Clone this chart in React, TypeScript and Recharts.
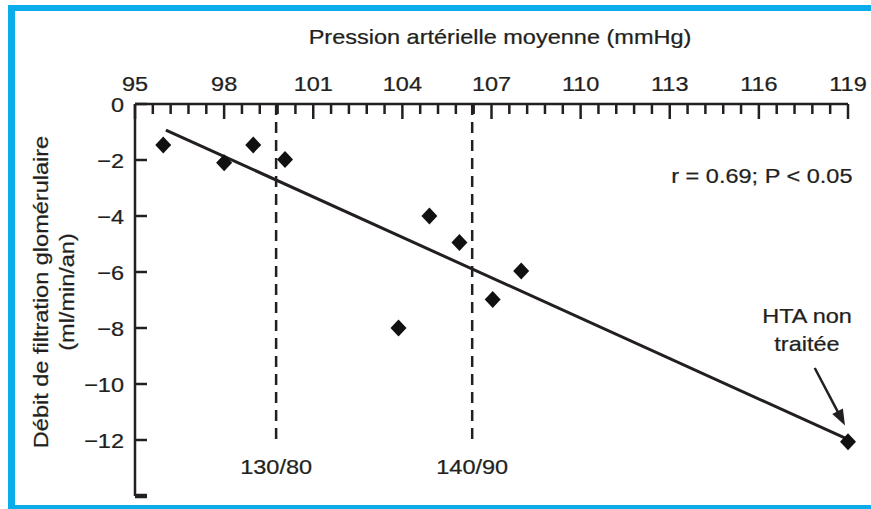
import React from 'react';
import { ScatterChart, Scatter, XAxis, YAxis, ReferenceLine, ReferenceDot } from 'recharts';

// ---- data ----
const pressureMmHg = [95.95, 98.0, 98.98, 100.05, 103.87, 104.91, 105.92, 107.04, 108.0, 119.0];
const gfrChange = [-1.46, -2.1, -1.46, -1.98, -8.0, -4.0, -4.95, -6.98, -5.96, -12.06];
const xMajorTicks = [95, 98, 101, 104, 107, 110, 113, 116, 119];
const xMinorPerMajor = 5;
const yTicks = [0, -2, -4, -6, -8, -10, -12, -14];
const yTickLabels = ['0', '−2', '−4', '−6', '−8', '−10', '−12', ''];
const regressionX = [96.04, 119.0];
const regressionY = [-0.93, -11.98];
const thresholdX = [99.75, 106.35];
const thresholdLabels = ['130/80', '140/90'];
const thresholdLabelY = -12.95;
const xTitle = 'Pression artérielle moyenne (mmHg)';
const yTitleLines = ['Débit de filtration glomérulaire', '(ml/min/an)'];
const statText = 'r = 0.69; P < 0.05';
const statPos = { x: 116.1, y: -2.57 };
const noteLines = ['HTA non', 'traitée'];
const notePos = { x: 117.62, y: [-7.54, -8.54] };
const arrowFrom = { x: 117.88, y: -9.43 };
const arrowTo = { x: 118.9, y: -11.48 };

const data = pressureMmHg.map((x, i) => ({ x, y: gfrChange[i] }));
const xAllTicks: number[] = [];
for (let i = 0; i < xMajorTicks.length - 1; i++) {
  const a = xMajorTicks[i];
  const b = xMajorTicks[i + 1];
  for (let k = 0; k < xMinorPerMajor; k++) xAllTicks.push(+(a + ((b - a) * k) / xMinorPerMajor).toFixed(3));
}
xAllTicks.push(xMajorTicks[xMajorTicks.length - 1]);

const INK = '#231f20';
const FONT = '"Liberation Sans", Arial, Helvetica, sans-serif';
const SX = 1.12;
const FS = 21;

const SText = ({ x, y, children, anchor = 'middle', rotate = 0, size = FS }: any) => (
  <text
    transform={`translate(${x},${y}) rotate(${rotate}) scale(${SX},1)`}
    textAnchor={anchor}
    fontFamily={FONT}
    fontSize={size}
    fill={INK}
    stroke={INK}
    strokeWidth={0.25}
  >
    {children}
  </text>
);

const isMajor = (v: number) => xMajorTicks.some((m) => Math.abs(m - v) < 1e-6);

const XTick = (props: any) => {
  const { x, y, payload } = props;
  const v = payload.value;
  const major = isMajor(v);
  return (
    <g>
      <line x1={x} y1={y} x2={x} y2={y + (major ? 15 : 10)} stroke={INK} strokeWidth={2.5} />
      {major && (
        <SText x={x} y={y - 13}>
          {String(v)}
        </SText>
      )}
    </g>
  );
};

const YTick = (props: any) => {
  const { x, y, payload } = props;
  const v = payload.value;
  const idx = yTicks.indexOf(v);
  const label = idx >= 0 ? yTickLabels[idx] : '';
  const last = v === yTicks[yTicks.length - 1];
  return (
    <g>
      <line x1={x} y1={y} x2={x + 12} y2={y} stroke={INK} strokeWidth={last ? 4.5 : 2.5} />
      {label && (
        <SText x={x - 11} y={y + 7.5} anchor="end">
          {label}
        </SText>
      )}
    </g>
  );
};

const Diamond = (props: any) => {
  const { cx, cy } = props;
  const hw = 8;
  const hh = 8.5;
  return (
    <polygon
      points={`${cx},${cy - hh} ${cx + hw},${cy} ${cx},${cy + hh} ${cx - hw},${cy}`}
      fill="#111"
    />
  );
};

const XTitle = (props: any) => {
  const vb = props.viewBox || { x: 135, y: 20, width: 713, height: 84 };
  return (
    <SText x={vb.x + vb.width / 2 + 8.5} y={vb.y + 24}>
      {xTitle}
    </SText>
  );
};

const YTitle = (props: any) => {
  const vb = props.viewBox || { x: 0, y: 104, width: 135, height: 392 };
  const cy = vb.y + vb.height / 2 - 8;
  return (
    <g>
      <SText x={vb.x + 48} y={cy} rotate={-90}>
        {yTitleLines[0]}
      </SText>
      <SText x={vb.x + 74} y={cy} rotate={-90}>
        {yTitleLines[1]}
      </SText>
    </g>
  );
};

const textShape = (txt: string, anchor = 'middle') => (p: any) => (
  <SText x={p.cx} y={p.cy + 0.355 * FS} anchor={anchor}>
    {txt}
  </SText>
);

const ArrowShape = (p: any) => {
  const { x1, y1, x2, y2 } = p;
  const dx = x2 - x1;
  const dy = y2 - y1;
  const len = Math.sqrt(dx * dx + dy * dy) || 1;
  const ux = dx / len;
  const uy = dy / len;
  const hl = 16;
  const hw = 6;
  const bx = x2 - ux * hl;
  const by = y2 - uy * hl;
  return (
    <g>
      <line x1={x1} y1={y1} x2={bx + ux * 2} y2={by + uy * 2} stroke={INK} strokeWidth={2.5} />
      <polygon
        points={`${x2},${y2} ${bx - uy * hw},${by + ux * hw} ${bx + uy * hw},${by - ux * hw}`}
        fill={INK}
      />
    </g>
  );
};

export default function App() {
  return (
    <div style={{ position: 'absolute', left: 0, top: 0, width: 871, height: 509, background: '#fff', overflow: 'hidden' }}>
      <ScatterChart
        width={871}
        height={509}
        margin={{ top: 20, right: 23, bottom: 13, left: 0 }}
      >
        <XAxis
          type="number"
          dataKey="x"
          orientation="top"
          domain={[95, 119]}
          ticks={xAllTicks}
          interval={0}
          height={84}
          tickSize={0}
          tickMargin={0}
          tickLine={false}
          axisLine={{ stroke: INK, strokeWidth: 2.5 }}
          tick={<XTick />}
          label={{ content: <XTitle /> } as any}
        />
        <YAxis
          type="number"
          dataKey="y"
          domain={[-14, 0]}
          ticks={yTicks}
          interval={0}
          width={135}
          tickSize={0}
          tickMargin={0}
          tickLine={false}
          axisLine={{ stroke: INK, strokeWidth: 2.5 }}
          tick={<YTick />}
          label={{ content: <YTitle /> } as any}
        />
        {thresholdX.map((tx, i) => (
          <ReferenceLine
            key={`th${i}`}
            segment={[{ x: tx, y: 0 }, { x: tx, y: -12 }]}
            stroke={INK}
            strokeWidth={2.5}
            strokeDasharray="11 7"
            ifOverflow="visible"
          />
        ))}
        <ReferenceLine
          segment={[{ x: regressionX[0], y: regressionY[0] }, { x: regressionX[1], y: regressionY[1] }]}
          stroke={INK}
          strokeWidth={3}
          ifOverflow="visible"
        />
        <Scatter data={data} shape={<Diamond />} isAnimationActive={false} />
        {thresholdX.map((tx, i) => (
          <ReferenceDot
            key={`tl${i}`}
            x={tx}
            y={thresholdLabelY}
            r={0}
            ifOverflow="visible"
            shape={textShape(thresholdLabels[i])}
          />
        ))}
        <ReferenceDot x={statPos.x} y={statPos.y} r={0} ifOverflow="visible" shape={textShape(statText)} />
        {noteLines.map((t, i) => (
          <ReferenceDot key={`n${i}`} x={notePos.x} y={notePos.y[i]} r={0} ifOverflow="visible" shape={textShape(t)} />
        ))}
        <ReferenceLine
          segment={[arrowFrom, arrowTo]}
          ifOverflow="visible"
          shape={ArrowShape}
        />
      </ScatterChart>
      <div style={{ position: 'absolute', left: 8, top: 5, width: 7, height: 504, background: '#0aadea' }} />
      <div style={{ position: 'absolute', left: 8, top: 5, width: 863, height: 6, background: '#0aadea' }} />
      <div style={{ position: 'absolute', left: 8, top: 505, width: 863, height: 4, background: '#0aadea' }} />
    </div>
  );
}
